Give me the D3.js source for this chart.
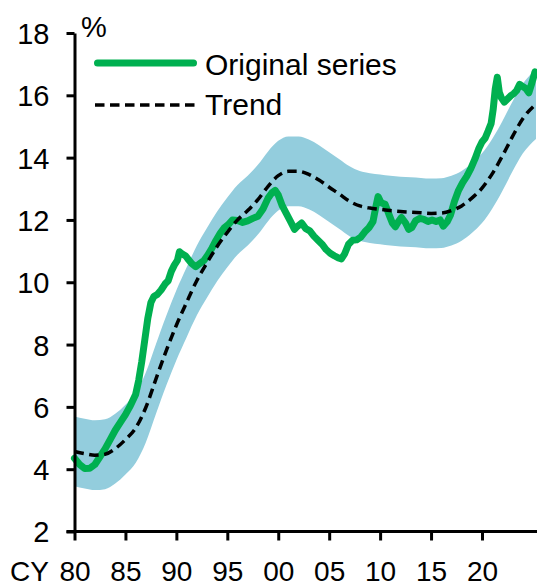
<!DOCTYPE html>
<html>
<head>
<meta charset="utf-8">
<script src="https://cdn.jsdelivr.net/npm/d3@7"></script>
<style>
  html, body { margin: 0; padding: 0; background: #ffffff; }
  svg { display: block; font-family: "Liberation Sans", Arial, Helvetica, sans-serif; }
</style>
</head>
<body>
<svg id="chart" width="537" height="587"></svg>
<script>
// Trend estimate (annual points) and its uncertainty band
const trendYears = [1980,1981,1982,1983,1984,1985,1986,1987,1988,1989,
  1990,1991,1992,1993,1994,1995,1996,1997,1998,1999,
  2000,2001,2002,2003,2004,2005,2006,2007,2008,2009,
  2010,2011,2012,2013,2014,2015,2016,2017,2018,2019,
  2020,2021,2022,2023,2024,2025.3];
const trendValues = [4.57,4.50,4.45,4.48,4.66,4.95,5.32,5.98,6.90,7.80,
  8.62,9.35,10.05,10.62,11.15,11.60,12.00,12.30,12.65,13.08,
  13.42,13.56,13.56,13.46,13.28,13.05,12.83,12.60,12.45,12.38,
  12.34,12.30,12.27,12.25,12.23,12.21,12.22,12.30,12.45,12.70,
  13.02,13.48,14.05,14.68,15.25,15.72];
const bandUpper = [5.69,5.62,5.57,5.60,5.78,6.07,6.44,7.10,8.02,8.92,
  9.74,10.47,11.17,11.74,12.27,12.72,13.12,13.42,13.77,14.20,
  14.54,14.68,14.68,14.58,14.40,14.17,13.95,13.72,13.57,13.50,
  13.46,13.42,13.39,13.37,13.35,13.33,13.34,13.42,13.57,13.82,
  14.14,14.60,15.17,15.80,16.37,16.84];
const bandLower = [3.45,3.38,3.33,3.36,3.54,3.83,4.20,4.86,5.78,6.68,
  7.50,8.23,8.93,9.50,10.03,10.48,10.88,11.18,11.53,11.96,
  12.30,12.44,12.44,12.34,12.16,11.93,11.71,11.48,11.33,11.26,
  11.22,11.18,11.15,11.13,11.11,11.09,11.10,11.18,11.33,11.58,
  11.90,12.36,12.93,13.56,14.13,14.60];

// Original (unsmoothed) series
const seriesYears = [1980.0,1980.5,1981.0,1981.5,1982.0,1982.5,1983.0,1983.5,1984.0,1984.5,
  1985.0,1985.5,1986.0,1986.3,1986.6,1986.9,1987.2,1987.5,1987.8,1988.1,
  1988.5,1988.9,1989.2,1989.5,1989.8,1990.1,1990.3,1990.6,1990.9,1991.2,
  1991.5,1991.9,1992.3,1992.7,1993.1,1993.5,1993.9,1994.3,1994.7,1995.1,
  1995.5,1996.0,1996.5,1997.0,1997.5,1998.0,1998.5,1999.0,1999.4,1999.7,
  2000.0,2000.4,2000.8,2001.2,2001.6,2001.9,2002.3,2002.7,2003.1,2003.5,
  2003.9,2004.3,2004.7,2005.1,2005.5,2005.9,2006.2,2006.5,2006.9,2007.3,
  2007.7,2008.1,2008.5,2008.9,2009.3,2009.6,2009.8,2010.1,2010.5,2010.9,
  2011.2,2011.5,2011.8,2012.1,2012.5,2012.8,2013.1,2013.5,2013.9,2014.3,
  2014.7,2015.1,2015.5,2015.9,2016.2,2016.6,2016.9,2017.3,2017.7,2018.1,
  2018.5,2018.9,2019.3,2019.7,2020.0,2020.3,2020.6,2020.9,2021.1,2021.3,
  2021.5,2021.7,2021.9,2022.2,2022.5,2022.8,2023.1,2023.4,2023.7,2024.0,
  2024.3,2024.6,2024.9,2025.2];
const seriesValues = [4.35,4.15,4.02,4.03,4.15,4.40,4.65,4.95,5.25,5.50,
  5.75,6.05,6.40,6.85,7.45,8.15,8.85,9.35,9.55,9.60,
  9.75,9.95,10.05,10.35,10.55,10.70,10.98,10.90,10.85,10.72,
  10.60,10.50,10.60,10.70,10.88,11.10,11.35,11.57,11.75,11.85,
  12.00,11.98,11.92,11.97,12.05,12.12,12.35,12.70,12.88,12.95,
  12.80,12.45,12.20,11.95,11.70,11.80,11.90,11.72,11.65,11.48,
  11.35,11.22,11.05,10.93,10.85,10.78,10.75,10.90,11.22,11.35,
  11.36,11.45,11.62,11.75,11.95,12.45,12.75,12.55,12.50,12.15,
  11.90,11.78,11.95,12.08,11.90,11.70,11.75,11.98,12.05,12.02,
  11.95,12.00,11.95,12.00,11.80,11.95,12.15,12.60,12.95,13.20,
  13.40,13.65,13.95,14.30,14.50,14.62,14.85,15.10,15.55,16.20,
  16.58,16.10,15.92,15.78,15.88,15.98,16.05,16.15,16.35,16.28,
  16.22,16.08,16.40,16.75];

// Axis ticks and labels
const yTicks = [2,4,6,8,10,12,14,16,18];
const xTicks = [1980,1985,1990,1995,2000,2005,2010,2015,2020];
const xTickLabels = ["80","85","90","95","00","05","10","15","20"];
const xAxisPrefix = "CY";
const yUnit = "%";
const legendLabels = ["Original series","Trend"];

const GREEN = "#00b050";
const BAND = "#93cddd";
const Y_FONT = 29;
const X_FONT = 28;
const LEGEND_FONT = 30;

const svg = d3.select("#chart");

const x = d3.scaleLinear().domain([1980, 2025.4]).range([74.5, 537]);
const y = d3.scaleLinear().domain([2, 18]).range([531.5, 33]);

const trend = trendYears.map((t, i) => ({ t, v: trendValues[i], lo: bandLower[i], hi: bandUpper[i] }));
const series = seriesYears.map((t, i) => ({ t, v: seriesValues[i] }));

// Uncertainty band
svg.append("path")
  .datum(trend)
  .attr("fill", BAND)
  .attr("d", d3.area()
    .x(d => x(d.t))
    .y0(d => y(d.lo))
    .y1(d => y(d.hi))
    .curve(d3.curveMonotoneX));

// Original series
svg.append("path")
  .datum(series)
  .attr("fill", "none")
  .attr("stroke", GREEN)
  .attr("stroke-width", 7)
  .attr("stroke-linejoin", "round")
  .attr("stroke-linecap", "round")
  .attr("d", d3.line().x(d => x(d.t)).y(d => y(d.v)));

// Trend line
svg.append("path")
  .datum(trend)
  .attr("fill", "none")
  .attr("stroke", "#000")
  .attr("stroke-width", 3.5)
  .attr("stroke-dasharray", "9.5,5.5")
  .attr("d", d3.line().x(d => x(d.t)).y(d => y(d.v)).curve(d3.curveMonotoneX));

// Y axis
const yAxis = svg.append("g")
  .attr("transform", `translate(${x(1980)},0)`)
  .call(d3.axisLeft(y).tickValues(yTicks).tickSize(8).tickSizeOuter(0).tickPadding(17).tickFormat(d3.format("d")));

// X axis
const xAxis = svg.append("g")
  .attr("transform", `translate(0,${y(2)})`)
  .call(d3.axisBottom(x).tickValues(xTicks).tickSize(9).tickSizeOuter(0).tickFormat((d, i) => xTickLabels[i]));

[yAxis, xAxis].forEach(g => {
  g.select(".domain").attr("stroke", "#000").attr("stroke-width", 3);
  g.selectAll(".tick line").attr("stroke", "#000").attr("stroke-width", 3);
  g.selectAll("text")
    .attr("fill", "#000")
    .style("font-family", "'Liberation Sans', Arial, sans-serif");
});
yAxis.selectAll(".tick text").style("font-size", Y_FONT + "px").attr("dy", "0.36em");
xAxis.selectAll(".tick text").style("font-size", X_FONT + "px").attr("y", 49.5).attr("dy", 0);

// Extend the x-axis line to the right edge
xAxis.select(".domain").attr("d", `M${x(1980) - 8},0H537`);

// Axis captions
svg.append("text")
  .attr("x", 10).attr("y", 581)
  .style("font-size", X_FONT + "px")
  .text(xAxisPrefix);

svg.append("text")
  .attr("x", 81).attr("y", 37)
  .style("font-size", Y_FONT + "px")
  .text(yUnit);

// Legend
const legend = svg.append("g");
legend.append("line")
  .attr("x1", 97.5).attr("x2", 193.5).attr("y1", 63).attr("y2", 63)
  .attr("stroke", GREEN).attr("stroke-width", 7).attr("stroke-linecap", "round");
legend.append("line")
  .attr("x1", 95).attr("x2", 195).attr("y1", 105).attr("y2", 105)
  .attr("stroke", "#000").attr("stroke-width", 3.5).attr("stroke-dasharray", "9.5,5.5");
legend.selectAll("text.lab")
  .data(legendLabels)
  .join("text")
  .attr("class", "lab")
  .attr("x", 205)
  .attr("y", (d, i) => 75 + i * 40)
  .style("font-size", LEGEND_FONT + "px")
  .text(d => d);
</script>
</body>
</html>
